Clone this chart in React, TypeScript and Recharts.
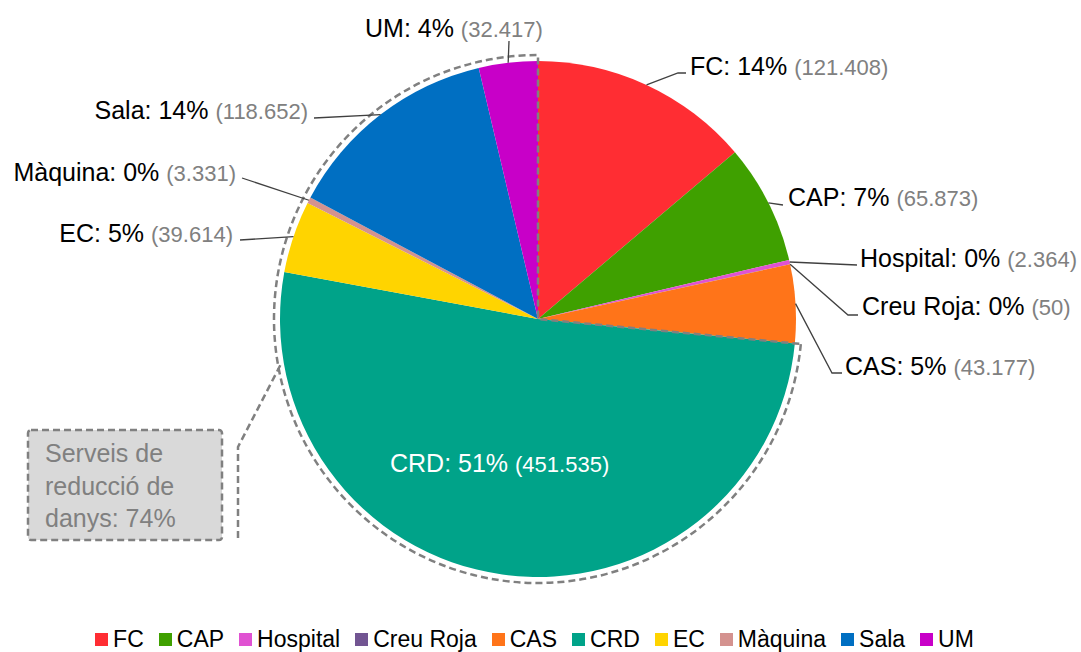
import React from 'react';
import { PieChart, Pie, Cell, Legend } from 'recharts';

const names = ['FC', 'CAP', 'Hospital', 'Creu Roja', 'CAS', 'CRD', 'EC', 'Màquina', 'Sala', 'UM'];
const values = [121408, 65873, 2364, 50, 43177, 451535, 39614, 3331, 118652, 32417];
const colors = ['#FF2D33', '#3FA000', '#E052D2', '#725592', '#FF7419', '#00A389', '#FFD400', '#D4928F', '#006FC2', '#C800C8'];
// services grouped under "Serveis de reducció de danys"
const groupNames = ['CRD', 'EC', 'Màquina', 'Sala', 'UM'];

const data = names.map((name, i) => ({ name, value: values[i] }));
const total = values.reduce((a, b) => a + b, 0);
const groupSum = data.filter(d => groupNames.includes(d.name)).reduce((a, d) => a + d.value, 0);
const groupData = [
  { name: 'rest', value: total - groupSum },
  { name: 'group', value: groupSum },
];

const FONT = '"Liberation Sans", Arial, sans-serif';
const fmt = (v: number) => String(v).replace(/\B(?=(\d{3})+(?!\d))/g, '.');

// where each label text sits and how its leader line bends
const labelLayout: Record<string, { x: number; y: number; anchor: 'start' | 'end'; pts: number[][]; inside?: boolean }> = {
  FC: { x: 690, y: 75, anchor: 'start', pts: [[678, 73], [686, 73]] },
  CAP: { x: 788, y: 206, anchor: 'start', pts: [[783, 205]] },
  Hospital: { x: 860, y: 267, anchor: 'start', pts: [[857, 265]] },
  'Creu Roja': { x: 862, y: 315, anchor: 'start', pts: [[848, 315], [858, 315]] },
  CAS: { x: 845, y: 375, anchor: 'start', pts: [[832, 373], [842, 373]] },
  CRD: { x: 390, y: 472, anchor: 'start', pts: [], inside: true },
  EC: { x: 233, y: 242, anchor: 'end', pts: [[240, 240]] },
  'Màquina': { x: 236, y: 181, anchor: 'end', pts: [[242, 178]] },
  Sala: { x: 308, y: 119, anchor: 'end', pts: [[314, 118]] },
  UM: { x: 365, y: 37, anchor: 'start', pts: [[509, 41]] },
};

const RAD = Math.PI / 180;

function renderLabel(props: any) {
  const { cx, cy, midAngle, outerRadius, index } = props;
  const name = names[index];
  const lay = labelLayout[name];
  if (!lay) return null;
  const pct = Math.round((values[index] / total) * 100);
  const ex = cx + outerRadius * Math.cos(-midAngle * RAD);
  const ey = cy + outerRadius * Math.sin(-midAngle * RAD);
  const pts = [[ex, ey], ...lay.pts].map(p => p.join(',')).join(' ');
  return (
    <g key={name}>
      {!lay.inside && <polyline points={pts} fill="none" stroke="#404040" strokeWidth={1.3} />}
      <text x={lay.x} y={lay.y} textAnchor={lay.anchor} fontFamily={FONT}>
        <tspan fontSize={25} fill={lay.inside ? '#fff' : '#000'}>{`${name}: ${pct}% `}</tspan>
        <tspan fontSize={22} fill={lay.inside ? '#fff' : '#808080'}>{`(${fmt(values[index])})`}</tspan>
      </text>
    </g>
  );
}

function LegendContent() {
  return (
    <div style={{ display: 'flex', justifyContent: 'center', marginLeft: -12, fontFamily: FONT, fontSize: 23, lineHeight: '27px' }}>
      {names.map((n, i) => (
        <div key={n} style={{ display: 'flex', alignItems: 'center', marginRight: i < names.length - 1 ? 15 : 0 }}>
          <span style={{ width: 13, height: 13, background: colors[i], marginRight: 5, display: 'inline-block' }} />
          <span style={{ color: '#000' }}>{n}</span>
        </div>
      ))}
    </div>
  );
}

export default function App() {
  return (
    <div style={{ position: 'absolute', left: 0, top: 0, width: 1081, height: 652, background: '#fff' }}>
      <PieChart width={1081} height={652} margin={{ top: 0, right: 0, bottom: 0, left: 0 }}>
        <Pie
          data={data}
          dataKey="value"
          nameKey="name"
          cx={538}
          cy={319}
          outerRadius={258}
          startAngle={90}
          endAngle={-270}
          stroke="none"
          label={renderLabel}
          labelLine={false}
          isAnimationActive={false}
        >
          {data.map((d, i) => <Cell key={d.name} fill={colors[i]} />)}
        </Pie>
        <Pie
          data={groupData}
          dataKey="value"
          cx={538}
          cy={319}
          outerRadius={264}
          startAngle={90}
          endAngle={-270}
          legendType="none"
          label={false}
          labelLine={false}
          isAnimationActive={false}
        >
          <Cell fill="none" stroke="none" />
          <Cell fill="none" stroke="#808080" strokeWidth={2.5} strokeDasharray="7 4" />
        </Pie>
        <Legend content={<LegendContent />} wrapperStyle={{ position: 'absolute', top: 626, left: 0, width: 1081 }} />
      </PieChart>
      <svg width={1081} height={652} style={{ position: 'absolute', left: 0, top: 0, pointerEvents: 'none' }}>
        <polyline points="238,538 238,447 282,362" fill="none" stroke="#808080" strokeWidth={2.5} strokeDasharray="7 4" />
        <rect x={28} y={430} width={194} height={110} rx={3} fill="#D9D9D9" stroke="#808080" strokeWidth={2.5} strokeDasharray="7 4" />
        <text x={45} fontFamily={FONT} fontSize={25} fill="#808080">
          <tspan x={45} y={462}>Serveis de</tspan>
          <tspan x={45} y={495}>reducció de</tspan>
          <tspan x={45} y={527}>danys: 74%</tspan>
        </text>
      </svg>
    </div>
  );
}
